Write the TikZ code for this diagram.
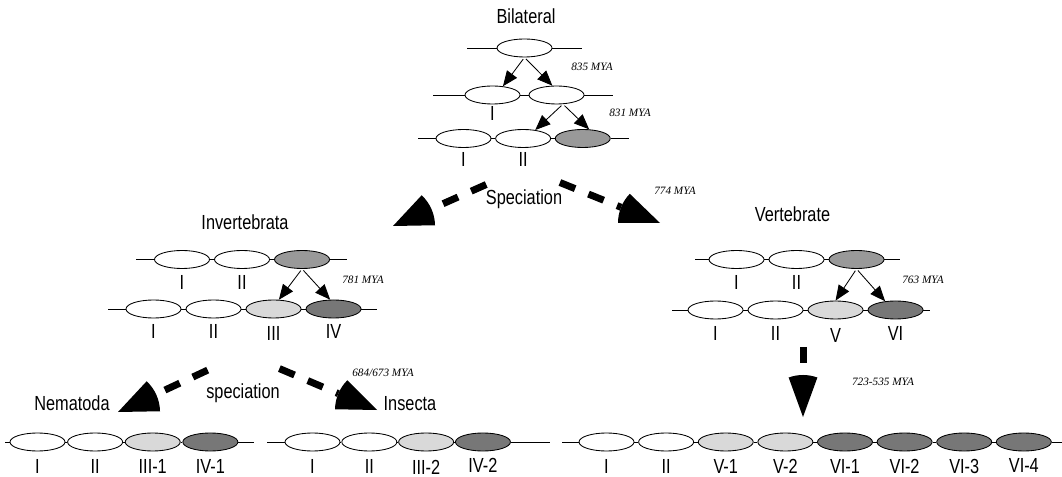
\documentclass[tikz,border=0pt]{standalone}
\usepackage{fontspec}
\newfontfamily\labfont{Liberation Sans}[FakeStretch=0.8]
\newfontfamily\myafont{Liberation Serif}
\usetikzlibrary{shapes.geometric,arrows.meta,positioning}

\definecolor{gmid}{HTML}{999999}
\definecolor{glight}{HTML}{D9D9D9}
\definecolor{gdark}{HTML}{777777}

\tikzstyle{gene} = [ellipse, draw, line width=0.6pt, fill=white, minimum width=1.375cm, minimum height=0.45cm, inner sep=0pt]
\tikzstyle{dup} = [gene, fill=gmid]
\tikzstyle{paraA} = [gene, fill=glight]
\tikzstyle{paraB} = [gene, fill=gdark]
\tikzstyle{chrom} = [line width=0.6pt]
\tikzstyle{num} = [anchor=base, inner sep=0pt, font=\labfont\fontsize{14.5}{16}\selectfont]
\tikzstyle{mya} = [inner sep=0pt, font=\myafont\itshape\fontsize{8}{9}\selectfont]
\tikzstyle{arrow} = [line width=0.6pt, shorten <=1.5pt, -{Triangle[length=3.8mm, width=3.1mm]}]
\tikzstyle{spec} = [line width=1.75mm, dash pattern=on 0.41cm off 0.36cm]

\begin{document}
\begin{tikzpicture}[x=0.025cm, y=0.025cm, node distance=1.5cm]
\useasboundingbox (0,0) rectangle (1062,-477);

% bilateral ancestor
\node (bl) [num] at (526,-24) {Bilateral};
\node (b) [gene] at (524.5,-48) {};
\draw [chrom] (b.west) -- ++(-30,0);
\draw [chrom] (b.east) -- ++(30,0);

\node (b1) [gene] at (492.5,-95) {};
\node (b2) [gene, right of=b1, node distance=1.6cm] {};
\draw [chrom] (b1.west) -- ++(-32,0);
\draw [chrom] (b1) -- (b2);
\draw [chrom] (b2.east) -- ++(29,0);
\node (lb1) [num] at ([yshift=-0.63cm]b1.center) {I};

\node (c1) [gene] at (463.5,-138.5) {};
\node (c2) [gene, right of=c1, node distance=1.49cm] {};
\node (c3) [dup, right of=c2, node distance=1.49cm] {};
\draw [chrom] (c1.west) -- ++(-18,0);
\draw [chrom] (c1) -- (c2);
\draw [chrom] (c2) -- (c3);
\draw [chrom] (c3.east) -- ++(18,0);
\node (lc1) [num] at ([yshift=-0.69cm]c1.center) {I};
\node (lc2) [num] at ([yshift=-0.69cm]c2.center) {II};

\draw [arrow] (b.south) -- (b1.40);
\draw [arrow] (b.south) -- (b2.114);
\draw [arrow] (b2.-55) -- (c2.35);
\draw [arrow] (b2.-55) -- (c3.55);
\node (m1) [mya] at (592,-67) {835 MYA};
\node (m2) [mya] at (630,-113) {831 MYA};

% first speciation
\node (sp1) [num] at (524,-205) {Speciation};
\node (m3) [mya] at (675,-191) {774 MYA};
\coordinate (sl) at (486.2,-184.5);
\coordinate (hl) at (431.4,-208.9);
\coordinate (tl) at (393,-226);
\draw [spec] (sl) -- (hl);
\fill (tl) -- ++(1:1.05cm) arc[start angle=1, end angle=47, radius=1.05cm] -- cycle;
\coordinate (sr) at (559.9,-182.5);
\coordinate (hr) at (621.1,-207.3);
\coordinate (tr) at (660,-223);
\draw [spec] (sr) -- (hr);
\fill (tr) -- ++(136:1.05cm) arc[start angle=136, end angle=180, radius=1.05cm] -- cycle;

% invertebrata
\node (inv) [num] at (245,-230) {Invertebrata};
\node (i1) [gene] at (182,-259.5) {};
\node (i2) [gene, right of=i1] {};
\node (i3) [dup, right of=i2] {};
\draw [chrom] (i1.west) -- ++(-18,0);
\draw [chrom] (i1) -- (i2);
\draw [chrom] (i2) -- (i3);
\draw [chrom] (i3.east) -- ++(17,0);
\node (li1) [num] at ([yshift=-0.76cm]i1.center) {I};
\node (li2) [num] at ([yshift=-0.76cm]i2.center) {II};

\node (j1) [gene] at (153.5,-309) {};
\node (j2) [gene, right of=j1] {};
\node (j3) [paraA, right of=j2] {};
\node (j4) [paraB, right of=j3] {};
\draw [chrom] (j1.west) -- ++(-18,0);
\draw [chrom] (j1) -- (j2);
\draw [chrom] (j2) -- (j3);
\draw [chrom] (j3) -- (j4);
\draw [chrom] (j4.east) -- ++(16,0);
\node (lj1) [num] at ([yshift=-0.73cm]j1.center) {I};
\node (lj2) [num] at ([yshift=-0.73cm]j2.center) {II};
\node (lj3) [num] at ([yshift=-0.78cm]j3.center) {III};
\node (lj4) [num] at ([yshift=-0.73cm]j4.center) {IV};

\draw [arrow] (i3.south) -- (j3.60);
\draw [arrow] (i3.south) -- (j4.110);
\node (m4) [mya] at (363,-280) {781 MYA};

% vertebrate
\node (vert) [num] at (792.5,-222) {Vertebrate};
\node (v1) [gene] at (736.5,-259.5) {};
\node (v2) [gene, right of=v1] {};
\node (v3) [dup, right of=v2] {};
\draw [chrom] (v1.west) -- ++(-14,0);
\draw [chrom] (v1) -- (v2);
\draw [chrom] (v2) -- (v3);
\draw [chrom] (v3.east) -- ++(16,0);
\node (lv1) [num] at ([yshift=-0.76cm]v1.center) {I};
\node (lv2) [num] at ([yshift=-0.76cm]v2.center) {II};

\node (w1) [gene] at (715.5,-310) {};
\node (w2) [gene, right of=w1] {};
\node (w3) [paraA, right of=w2] {};
\node (w4) [paraB, right of=w3] {};
\draw [chrom] (w1.west) -- ++(-16,0);
\draw [chrom] (w1) -- (w2);
\draw [chrom] (w2) -- (w3);
\draw [chrom] (w3) -- (w4);
\draw [chrom] (w4.east) -- ++(7,0);
\node (lw1) [num] at ([yshift=-0.75cm]w1.center) {I};
\node (lw2) [num] at ([yshift=-0.75cm]w2.center) {II};
\node (lw3) [num] at ([yshift=-0.8cm]w3.center) {V};
\node (lw4) [num] at ([yshift=-0.75cm]w4.center) {VI};

\draw [arrow] (v3.south) -- (w3.90);
\draw [arrow] (v3.south) -- (w4.140);
\node (m5) [mya] at (923,-280) {763 MYA};

% second speciation
\node (sp2) [num] at (243,-398) {speciation};
\node (m6) [mya] at (383,-373) {684/673 MYA};
\coordinate (ll) at (207.7,-370.1);
\coordinate (hll) at (156.1,-394.2);
\coordinate (tll) at (118,-412);
\draw [spec] (ll) -- (hll);
\fill (tll) -- ++(1:1.05cm) arc[start angle=1, end angle=47, radius=1.05cm] -- cycle;
\coordinate (lr) at (279.4,-368.6);
\coordinate (hlr) at (338.3,-393.6);
\coordinate (tlr) at (377,-410);
\draw [spec] (lr) -- (hlr);
\fill (tlr) -- ++(135:1.05cm) arc[start angle=135, end angle=179, radius=1.05cm] -- cycle;

% vertebrate expansion
\node (m7) [mya] at (883,-382) {723-535 MYA};
\coordinate (ds) at (803,-347);
\coordinate (dh) at (803,-376);
\coordinate (dt) at (803,-417);
\draw [spec] (ds) -- (dh);
\fill (dt) -- ++(70:1.05cm) arc[start angle=70, end angle=110, radius=1.05cm] -- cycle;

% nematoda
\node (nem) [num] at (72,-410) {Nematoda};
\node (n1) [gene] at (37.5,-442) {};
\node (n2) [gene, right of=n1, node distance=1.44cm] {};
\node (n3) [paraA, right of=n2, node distance=1.44cm] {};
\node (n4) [paraB, right of=n3, node distance=1.44cm] {};
\draw [chrom] (n1.west) -- ++(-5,0);
\draw [chrom] (n1) -- (n2);
\draw [chrom] (n2) -- (n3);
\draw [chrom] (n3) -- (n4);
\draw [chrom] (n4.east) -- ++(16,0);
\node (ln1) [num] at ([yshift=-0.79cm]n1.center) {I};
\node (ln2) [num] at ([yshift=-0.79cm]n2.center) {II};
\node (ln3) [num] at ([yshift=-0.79cm]n3.center) {III-1};
\node (ln4) [num] at ([yshift=-0.79cm]n4.center) {IV-1};

% insecta
\node (ins) [num] at (410,-410) {Insecta};
\node (s1) [gene] at (312.5,-442) {};
\node (s2) [gene, right of=s1, node distance=1.42cm] {};
\node (s3) [paraA, right of=s2, node distance=1.42cm] {};
\node (s4) [paraB, right of=s3, node distance=1.42cm] {};
\draw [chrom] (s1.west) -- ++(-18,0);
\draw [chrom] (s1) -- (s2);
\draw [chrom] (s2) -- (s3);
\draw [chrom] (s3) -- (s4);
\draw [chrom] (s4.east) -- ++(33,0);
\node (ls1) [num] at ([yshift=-0.79cm]s1.center) {I};
\node (ls2) [num] at ([yshift=-0.79cm]s2.center) {II};
\node (ls3) [num] at ([yshift=-0.8cm]s3.center) {III-2};
\node (ls4) [num] at ([yshift=-0.76cm]s4.center) {IV-2};

% vertebrate after duplication
\node (u1) [gene] at (606.5,-442) {};
\node (u2) [gene, right of=u1, node distance=1.49cm] {};
\node (u3) [paraA, right of=u2, node distance=1.49cm] {};
\node (u4) [paraA, right of=u3, node distance=1.49cm] {};
\node (u5) [paraB, right of=u4, node distance=1.49cm] {};
\node (u6) [paraB, right of=u5, node distance=1.49cm] {};
\node (u7) [paraB, right of=u6, node distance=1.49cm] {};
\node (u8) [paraB, right of=u7, node distance=1.49cm] {};
\draw [chrom] (543,-442) -- (550,-442);
\draw [chrom] (u1.west) -- ++(-17,0);
\draw [chrom] (u1) -- (u2);
\draw [chrom] (u2) -- (u3);
\draw [chrom] (u3) -- (u4);
\draw [chrom] (u4) -- (u5);
\draw [chrom] (u5) -- (u6);
\draw [chrom] (u6) -- (u7);
\draw [chrom] (u7) -- (u8);
\draw [chrom] (u8.east) -- ++(11,0);
\node (lu1) [num] at ([yshift=-0.79cm]u1.center) {I};
\node (lu2) [num] at ([yshift=-0.79cm]u2.center) {II};
\node (lu3) [num] at ([yshift=-0.79cm]u3.center) {V-1};
\node (lu4) [num] at ([yshift=-0.79cm]u4.center) {V-2};
\node (lu5) [num] at ([yshift=-0.79cm]u5.center) {VI-1};
\node (lu6) [num] at ([yshift=-0.79cm]u6.center) {VI-2};
\node (lu7) [num] at ([yshift=-0.79cm]u7.center) {VI-3};
\node (lu8) [num] at ([yshift=-0.77cm]u8.center) {VI-4};

\end{tikzpicture}
\end{document}
